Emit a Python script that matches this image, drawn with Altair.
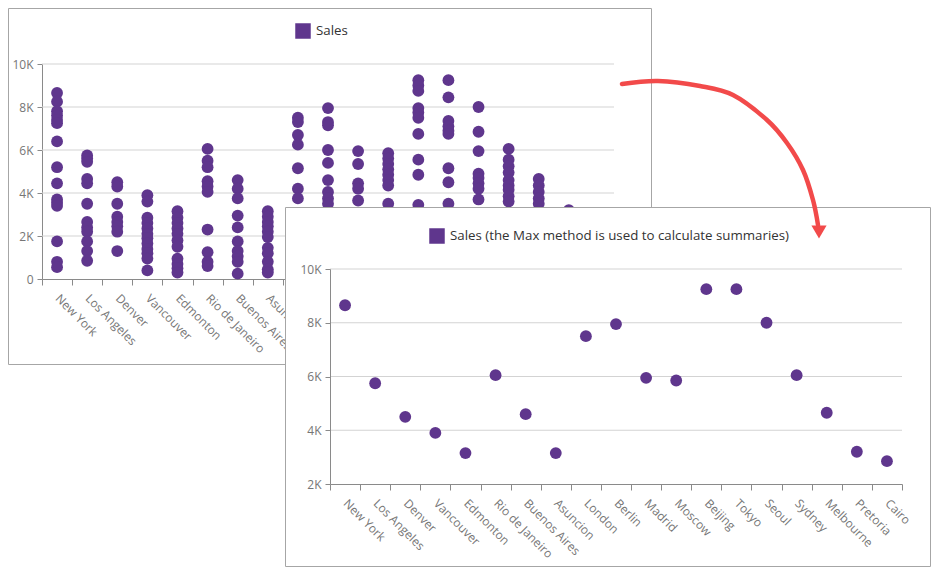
import json
import altair as alt
import pandas as pd

# ---------------- data ----------------
cities = ["New York", "Los Angeles", "Denver", "Vancouver", "Edmonton",
          "Rio de Janeiro", "Buenos Aires", "Asuncion", "London", "Berlin",
          "Madrid", "Moscow", "Beijing", "Tokyo", "Seoul", "Sydney",
          "Melbourne", "Pretoria", "Cairo"]

new_york = [8650, 8250, 7800, 7600, 7400, 7250, 6400, 5200, 4450, 3700, 3550, 3400, 1750, 800, 550]
los_angeles = [5750, 5600, 5450, 4650, 4450, 3500, 2650, 2400, 2200, 1750, 1300, 850]
denver = [4500, 4300, 3500, 2900, 2650, 2450, 2200, 1300]
vancouver = [3900, 3600, 2850, 2600, 2350, 2100, 1900, 1650, 1400, 1200, 950, 400]
edmonton = [3150, 2850, 2600, 2350, 2100, 1800, 1500, 950, 700, 500, 300]
rio = [6050, 5500, 5200, 4550, 4300, 4050, 2300, 1250, 800, 600]
buenos_aires = [4600, 4200, 3750, 2950, 2400, 1750, 1300, 1050, 800, 250]
asuncion = [3150, 2900, 2650, 2450, 2200, 1950, 1450, 1200, 800, 450, 300]
london = [7500, 7300, 6700, 6250, 5150, 4200, 3750, 2800, 1900, 1100, 500]
berlin = [7950, 7300, 7150, 6000, 5400, 4600, 4050, 3750, 3500, 2500, 1600, 700]
madrid = [5950, 5350, 4450, 4200, 3650, 2700, 1800, 900]
moscow = [5850, 5600, 5350, 5100, 4850, 4600, 4350, 3500, 2400, 1300]
beijing = [9250, 9000, 8750, 7950, 7750, 7500, 6750, 5550, 4850, 3450, 2200, 1000]
tokyo = [9250, 8450, 7350, 7100, 6900, 6750, 5150, 4500, 3500, 2600, 1500]
seoul = [8000, 6850, 5950, 4900, 4700, 4450, 4200, 3700, 2900, 1700, 600]
sydney = [6050, 5550, 5250, 4950, 4600, 4350, 4150, 3850, 3600, 2500, 1400]
melbourne = [4650, 4350, 4050, 3750, 3500, 2600, 1500, 700]
pretoria = [3200, 2400, 1600, 900]
cairo = [2850, 2100, 1200, 500]

city_sales = [new_york, los_angeles, denver, vancouver, edmonton, rio,
              buenos_aires, asuncion, london, berlin, madrid, moscow,
              beijing, tokyo, seoul, sydney, melbourne, pretoria, cairo]

series_names = ["Sales", "Sales (the Max method is used to calculate summaries)"]
back_ticks = [0, 2000, 4000, 6000, 8000, 10000]
back_grid = [2000, 4000, 6000, 8000, 10000]
front_ticks = [2000, 4000, 6000, 8000, 10000]
front_grid = [4000, 6000, 8000, 10000]

rows = []
for c, vals in zip(cities, city_sales):
    for v in vals:
        rows.append({"city": c, "sales": v})
sales_df = pd.DataFrame(rows)

# ---------------- styles ----------------
PURPLE = "#5f368d"
RED = "#f24a4a"
FONT = "Open Sans"
LABEL_COLOR = "#767676"
AXIS_COLOR = "#8a8a8a"
GRID_COLOR = "#d3d3d3"
FRAME_COLOR = "#a6a6a6"
W, H = 934, 568

label_expr = "datum.value == 0 ? '0' : format(datum.value / 1000, 'd') + 'K'"


def axis_y(offset, values, z):
    return alt.Axis(orient="left", offset=offset, values=values, labelExpr=label_expr,
                    grid=False, title=None, domainColor=AXIS_COLOR, tickColor=AXIS_COLOR,
                    tickSize=5, labelPadding=4, labelFont=FONT, labelFontSize=12,
                    labelColor=LABEL_COLOR, zindex=z)


def axis_x(offset, z):
    return alt.Axis(orient="bottom", offset=offset, tickBand="extent", grid=False,
                    title=None, domainColor=AXIS_COLOR, tickColor=AXIS_COLOR, tickSize=6,
                    labelAngle=45, labelAlign="left", labelBaseline="middle",
                    labelPadding=11, labelFont=FONT, labelFontSize=12,
                    labelColor=LABEL_COLOR, zindex=z, labelOverlap=False)


def legend(x, y, z):
    return alt.Legend(orient="none", legendX=x, legendY=y, title=None,
                      symbolType="square", symbolSize=240, symbolStrokeWidth=0,
                      labelFont=FONT, labelFontSize=13.3, labelColor="#333333",
                      labelOffset=5, zindex=z, labelLimit=0)


# ---------------- back chart ----------------
back_x_scale = alt.Scale(type="band", domain=cities, range=[34, 606],
                         paddingInner=0, paddingOuter=0)
back_y_scale = alt.Scale(domain=[0, 10000], range=[271, 56], nice=False, zero=False)
back_y_axis = axis_y(-34, back_ticks, 0)

back_frame = alt.Chart(pd.DataFrame({"k": [0]})).mark_rect(
    fillOpacity=0, stroke=FRAME_COLOR, strokeWidth=1
).encode(x=alt.value(0.5), x2=alt.value(643.5), y=alt.value(0.5), y2=alt.value(356.5))

back_gridlines = alt.Chart(pd.DataFrame({"sales": back_grid})).mark_rule(
    color=GRID_COLOR, strokeWidth=1
).encode(
    y=alt.Y("sales:Q", scale=back_y_scale, axis=back_y_axis),
    x=alt.value(34), x2=alt.value(606),
)

back_points = alt.Chart(sales_df).transform_calculate(
    series=json.dumps(series_names[0])
).mark_circle(size=140, opacity=1).encode(
    x=alt.X("city:N", sort=cities, scale=back_x_scale, axis=axis_x(-297, 0)),
    y=alt.Y("sales:Q", scale=back_y_scale, axis=back_y_axis),
    color=alt.Color("series:N",
                    scale=alt.Scale(domain=[series_names[0]], range=[PURPLE]),
                    legend=legend(287, 15, 0)),
)

back = alt.layer(back_gridlines, back_points)

# ---------------- front chart ----------------
front_x_scale = alt.Scale(type="band", domain=cities, range=[322, 894],
                          paddingInner=0, paddingOuter=0)
front_y_scale = alt.Scale(domain=[2000, 10000], range=[476, 261], nice=False, zero=False)
front_y_axis = axis_y(-322, front_ticks, 1)

front_frame = alt.Chart(pd.DataFrame({"k": [0]})).mark_rect(
    fill="white", stroke=FRAME_COLOR, strokeWidth=1
).encode(x=alt.value(277.5), x2=alt.value(922.5), y=alt.value(199.5), y2=alt.value(558.5))

front_gridlines = alt.Chart(pd.DataFrame({"max_sales": front_grid})).mark_rule(
    color=GRID_COLOR, strokeWidth=1
).encode(
    y=alt.Y("max_sales:Q", scale=front_y_scale, axis=front_y_axis),
    x=alt.value(322), x2=alt.value(894),
)

front_points = alt.Chart(sales_df).transform_aggregate(
    max_sales="max(sales)", groupby=["city"]
).transform_calculate(
    series=json.dumps(series_names[1])
).mark_circle(size=140, opacity=1).encode(
    x=alt.X("city:N", sort=cities, scale=front_x_scale, axis=axis_x(-92, 1)),
    y=alt.Y("max_sales:Q", scale=front_y_scale, axis=front_y_axis),
    color=alt.Color("series:N",
                    scale=alt.Scale(domain=[series_names[1]], range=[PURPLE]),
                    legend=legend(421, 220, 1)),
)

front = alt.layer(front_gridlines, front_points)

# ---------------- arrow (decoration) ----------------
arrow_path = alt.Data(values=[
    {"px": 614, "py": 76}, {"px": 650, "py": 73}, {"px": 692, "py": 78},
    {"px": 725, "py": 87}, {"px": 759, "py": 112}, {"px": 779, "py": 135},
    {"px": 795, "py": 162}, {"px": 805, "py": 192}, {"px": 810, "py": 217},
])
arrow_line = alt.Chart(arrow_path).mark_line(
    color=RED, strokeWidth=4.5, interpolate="cardinal", strokeCap="round"
).encode(
    x=alt.X("px:Q", scale=None), y=alt.Y("py:Q", scale=None), order="px:Q"
)
arrow_head = alt.Chart(pd.DataFrame({"k": [0]})).mark_point(
    shape="triangle-down", filled=True, color=RED, size=230, opacity=1
).encode(x=alt.value(811), y=alt.value(224))

chart = alt.layer(
    back_frame, back, front_frame, front, arrow_line, arrow_head
).resolve_scale(
    x="independent", y="independent", color="independent"
).properties(
    width=W, height=H, padding=0, autosize=alt.AutoSizeParams(type="none")
).configure_view(stroke=None)

chart.save("out.html", embed_options={"renderer": "svg", "actions": False})
